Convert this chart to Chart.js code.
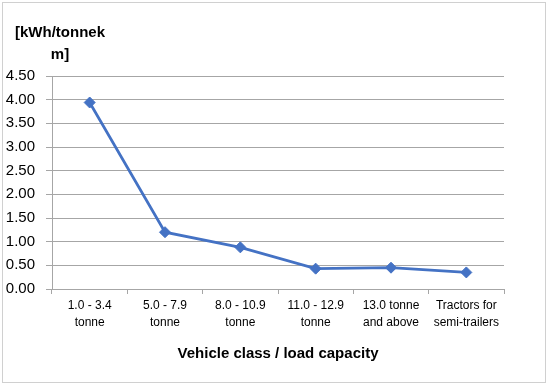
<!DOCTYPE html>
<html>
<head>
<meta charset="utf-8">
<script src="https://cdn.jsdelivr.net/npm/chart.js@4.4.0/dist/chart.umd.min.js"></script>
<style>
  html, body { margin: 0; padding: 0; background: #fff; }
  #wrap { position: relative; width: 550px; height: 385px; }
  #frame { position: absolute; left: 2px; top: 2px; width: 542px; height: 379px; border: 1px solid #d0d0d0; pointer-events: none; }
</style>
</head>
<body>
<div id="wrap">
  <canvas id="chart" width="550" height="385"></canvas>
  <div id="frame"></div>
</div>
<script>
// Chart data
const categories = [
    ['1.0 - 3.4', 'tonne'],
    ['5.0 - 7.9', 'tonne'],
    ['8.0 - 10.9', 'tonne'],
    ['11.0 - 12.9', 'tonne'],
    ['13.0 tonne', 'and above'],
    ['Tractors for', 'semi-trailers']
];
const energyValues = [3.94, 1.20, 0.88, 0.43, 0.45, 0.35];
const yTicks = [0, 0.5, 1, 1.5, 2, 2.5, 3, 3.5, 4, 4.5];
const unitLabel = ['[kWh/tonnek', 'm]'];
const xTitle = 'Vehicle class / load capacity';

const FONT = "'Liberation Sans', Arial, sans-serif";
const GRID = '#a6a6a6';
const BLUE = '#4472c4';

// Draws the unit label above the y axis
const unitLabelPlugin = {
    id: 'unitLabel',
    afterDraw(chart) {
        const ctx = chart.ctx;
        ctx.save();
        ctx.font = 'bold 15px ' + FONT;
        ctx.fillStyle = '#000';
        ctx.textAlign = 'center';
        ctx.textBaseline = 'middle';
        const cx = chart.chartArea.left + 8;
        unitLabel.forEach((line, i) => ctx.fillText(line, cx, 33 + i * 22));
        ctx.restore();
    }
};

new Chart(document.getElementById('chart').getContext('2d'), {
    type: 'line',
    data: {
        labels: categories,
        datasets: [{
            data: energyValues,
            borderColor: BLUE,
            backgroundColor: BLUE,
            borderWidth: 2.75,
            tension: 0,
            pointStyle: 'rectRot',
            pointRadius: 5.5,
            pointHoverRadius: 5.5,
            pointBorderWidth: 1
        }]
    },
    options: {
        responsive: false,
        animation: false,
        layout: { padding: { left: 0, top: 76, right: 46, bottom: 22 } },
        plugins: {
            legend: { display: false },
            tooltip: { enabled: false }
        },
        scales: {
            x: {
                offset: true,
                afterFit: (scale) => { scale.height = 74; },
                grid: {
                    offset: true,
                    drawOnChartArea: false,
                    drawTicks: true,
                    tickLength: 5,
                    color: GRID
                },
                border: { color: GRID, width: 1 },
                ticks: {
                    color: '#000',
                    font: { family: FONT, size: 12, lineHeight: 1.4 },
                    padding: 3,
                    maxRotation: 0,
                    autoSkip: false
                },
                title: {
                    display: true,
                    text: xTitle,
                    color: '#000',
                    font: { family: FONT, size: 15, weight: 'bold' },
                    padding: { top: 0, bottom: 0 }
                }
            },
            y: {
                min: 0,
                max: 4.5,
                afterFit: (scale) => { scale.width = 52; },
                afterBuildTicks: (scale) => { scale.ticks = yTicks.map(v => ({ value: v })); },
                grid: {
                    color: GRID,
                    lineWidth: 1,
                    tickLength: 6
                },
                border: { display: true, color: GRID, width: 1 },
                ticks: {
                    color: '#000',
                    font: { family: FONT, size: 15 },
                    padding: 11,
                    callback: (v) => Number(v).toFixed(2)
                }
            }
        }
    },
    plugins: [unitLabelPlugin]
});
</script>
</body>
</html>
